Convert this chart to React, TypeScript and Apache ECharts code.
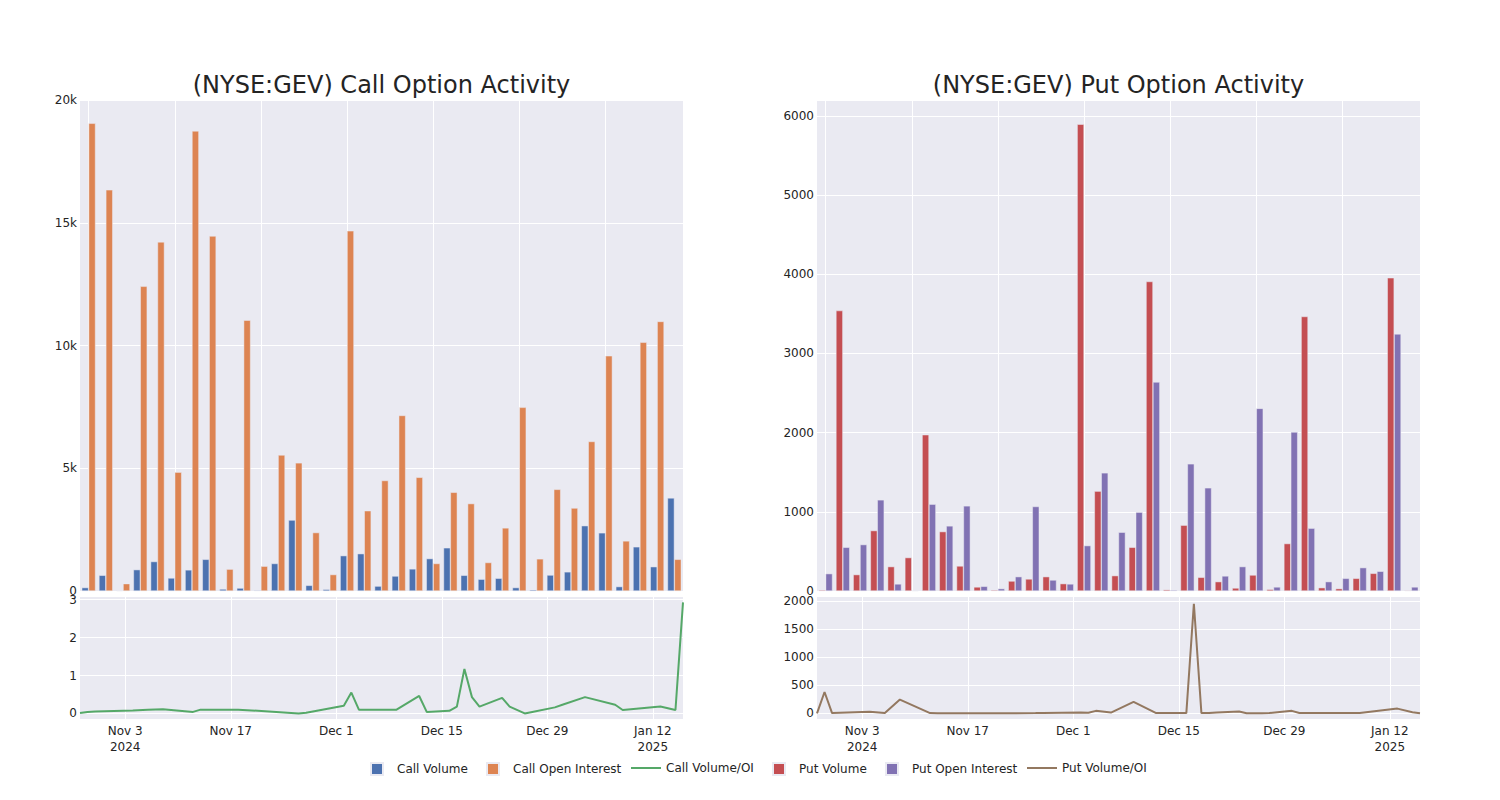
import React, { useEffect, useRef } from 'react';
import * as echarts from 'echarts';

// ---- data ----
const dates = [
  '2024-10-28', '2024-10-29', '2024-10-30', '2024-11-04', '2024-11-06', '2024-11-08', '2024-11-12',
  '2024-11-13', '2024-11-18', '2024-11-26', '2024-11-27', '2024-12-02', '2024-12-03', '2024-12-04',
  '2024-12-06', '2024-12-09', '2024-12-12', '2024-12-13', '2024-12-16', '2024-12-17', '2024-12-18',
  '2024-12-19', '2024-12-20', '2024-12-23', '2024-12-24', '2024-12-26', '2024-12-27', '2024-12-30',
  '2024-12-31', '2025-01-03', '2025-01-07', '2025-01-08', '2025-01-13', '2025-01-15', '2025-01-16',
];

const callVolume = [
  140, 640, 20, 870, 1200, 530, 860, 1290, 80, 120, 30, 1120, 2890, 230, 70, 1440, 1520, 200,
  610, 900, 1320, 1760, 640, 480, 520, 140, 50, 650, 780, 2660, 2370, 180, 1800, 990, 3790,
];
const callOpenInterest = [
  19050, 16340, 300, 12410, 14220, 4840, 18740, 14460, 890, 11030, 1010, 5540, 5220, 2380, 670,
  14670, 3270, 4500, 7150, 4630, 1120, 4020, 3560, 1160, 2570, 7480, 1310, 4140, 3380, 6090, 9580,
  2040, 10130, 10980, 1290,
];
const callVolOI = [
  0.01, 0.04, 0.05, 0.08, 0.095, 0.11, 0.04, 0.1, 0.1, 0.0, 0.02, 0.2, 0.55, 0.1, 0.1, 0.1, 0.46,
  0.04, 0.07, 0.18, 1.17, 0.43, 0.18, 0.41, 0.18, 0.0, 0.04, 0.16, 0.23, 0.43, 0.23, 0.09, 0.18,
  0.09, 2.93,
];
const putVolume = [
  13, 3541, 207, 763, 308, 422, 1973, 750, 316, 51, 13, 126, 152, 181, 93, 5894, 1261, 194, 552,
  3908, 17, 831, 173, 118, 38, 202, 21, 599, 3466, 42, 30, 160, 223, 3955, 8,
];
const putOpenInterest = [
  219, 552, 586, 1151, 89, 5, 1096, 822, 1075, 59, 30, 181, 1067, 139, 89, 573, 1492, 742, 995,
  2639, 13, 1606, 1303, 190, 308, 2306, 51, 2007, 793, 118, 160, 295, 249, 3246, 51,
];
const putVolOI = [
  0, 380, 5, 30, 5, 245, 5, 3, 3, 5, 8, 15, 10, 45, 15, 205, 5, 5, 5, 1950, 5, 8, 15, 35, 3, 3,
  5, 45, 8, 8, 8, 8, 85, 20, 3,
];

const axisStart = '2024-10-28';
const axisEnd = '2025-01-16';
const xTickDates = ['2024-11-03', '2024-11-17', '2024-12-01', '2024-12-15', '2024-12-29', '2025-01-12'];
const xTickLabels = ['Nov 3\n2024', 'Nov 17', 'Dec 1', 'Dec 15', 'Dec 29', 'Jan 12\n2025'];
const callRatioTicks = [0, 1, 2, 3];
const putRatioTicks = [0, 500, 1000, 1500, 2000];

const titles = ['(NYSE:GEV) Call Option Activity', '(NYSE:GEV) Put Option Activity'];

// ---- styles ----
const FONT = '"DejaVu Sans", Verdana, sans-serif';
const TEXT = '#242424';
const BG = '#EAEAF2';
const C_BLUE = '#4C72B0';
const C_ORANGE = '#DD8452';
const C_GREEN = '#55A868';
const C_RED = '#C44E52';
const C_PURPLE = '#8172B3';
const C_BROWN = '#937860';

function ts(s: string): number {
  const [y, m, d] = s.split('-').map(Number);
  return Date.UTC(y, m - 1, d);
}

export default function App() {
  const ref = useRef<HTMLDivElement>(null);

  useEffect(() => {
    if (!ref.current) return;
    const chart = echarts.init(ref.current, null, { renderer: 'svg' });
    const xMin = ts(axisStart);
    const xMax = ts(axisEnd);
    const tickTs = xTickDates.map(ts);

    const labelStyle = { color: TEXT, fontSize: 12, fontFamily: FONT };
    const white = { show: true, lineStyle: { color: '#ffffff', width: 1 } };

    const catAxis = (gridIndex: number) => ({
      type: 'category',
      gridIndex,
      data: dates,
      axisLine: { show: false },
      axisTick: { show: false },
      axisLabel: { show: false },
      splitLine: { show: true, interval: 4, alignWithLabel: true, lineStyle: { color: '#ffffff', width: 1 } },
    });

    const dateAxis = (gridIndex: number) => ({
      type: 'value',
      gridIndex,
      min: xMin,
      max: xMax,
      axisLine: { show: false },
      axisTick: { show: false, customValues: tickTs },
      axisLabel: {
        ...labelStyle,
        customValues: tickTs,
        margin: 4,
        lineHeight: 16,
        hideOverlap: false,
        formatter: (v: number) => {
          for (let i = 0; i < tickTs.length; i++) {
            if (Math.abs(tickTs[i] - v) < 3600000) return xTickLabels[i];
          }
          return '';
        },
      },
      splitLine: white,
    });

    const gridBase = { show: true, backgroundColor: BG, borderWidth: 0, containLabel: false };

    const squareLegend = (name: string, left: number) => ({
      data: [name],
      left,
      top: 762,
      padding: 0,
      itemWidth: 12,
      itemHeight: 12,
      icon: 'rect',
      selectedMode: false,
      textStyle: { ...labelStyle, padding: [0, 0, 0, 9] },
    });
    const lineLegend = (name: string, left: number) => ({
      data: [name],
      left,
      top: 762,
      padding: 0,
      itemWidth: 30,
      itemHeight: 12,
      icon: 'path://M0,5H30V7H0Z',
      selectedMode: false,
      textStyle: { ...labelStyle },
    });

    chart.setOption({
      animation: false,
      backgroundColor: '#ffffff',
      textStyle: { fontFamily: FONT },
      title: [
        {
          text: titles[0], left: 381.5, top: 73, textAlign: 'center', padding: 0,
          textStyle: { fontSize: 24, fontWeight: 'normal', color: TEXT, fontFamily: FONT },
        },
        {
          text: titles[1], left: 1118.5, top: 73, textAlign: 'center', padding: 0,
          textStyle: { fontSize: 24, fontWeight: 'normal', color: TEXT, fontFamily: FONT },
        },
      ],
      legend: [
        squareLegend('Call Volume', 370),
        squareLegend('Call Open Interest', 486),
        lineLegend('Call Volume/OI', 631),
        squareLegend('Put Volume', 772),
        squareLegend('Put Open Interest', 885),
        lineLegend('Put Volume/OI', 1027),
      ],
      grid: [
        { ...gridBase, left: 80, top: 100, width: 603, height: 491 },
        { ...gridBase, left: 80, top: 597, width: 603, height: 122 },
        { ...gridBase, left: 817, top: 100, width: 603, height: 491 },
        { ...gridBase, left: 817, top: 597, width: 603, height: 122 },
      ],
      xAxis: [catAxis(0), dateAxis(1), catAxis(2), dateAxis(3)],
      yAxis: [
        {
          type: 'value', gridIndex: 0, min: 0, max: 20000, interval: 5000,
          axisLine: { show: false }, axisTick: { show: false },
          axisLabel: { ...labelStyle, margin: 3, formatter: (v: number) => (v === 0 ? '0' : v / 1000 + 'k') },
          splitLine: white,
        },
        {
          type: 'value', gridIndex: 1, min: -0.147, max: 3.07,
          axisLine: { show: false },
          axisTick: { show: false, customValues: callRatioTicks },
          axisLabel: { ...labelStyle, margin: 3, customValues: callRatioTicks, formatter: (v: number) => String(v) },
          splitLine: white,
        },
        {
          type: 'value', gridIndex: 2, min: 0, max: 6200, interval: 1000,
          axisLine: { show: false }, axisTick: { show: false },
          axisLabel: { ...labelStyle, margin: 3, formatter: (v: number) => (v % 1000 === 0 ? String(v) : '') },
          splitLine: white,
        },
        {
          type: 'value', gridIndex: 3, min: -100, max: 2070,
          axisLine: { show: false },
          axisTick: { show: false, customValues: putRatioTicks },
          axisLabel: { ...labelStyle, margin: 3, customValues: putRatioTicks, formatter: (v: number) => String(v) },
          splitLine: white,
        },
      ],
      series: [
        {
          name: 'Call Volume', type: 'bar', xAxisIndex: 0, yAxisIndex: 0, data: callVolume,
          barWidth: '40%', barGap: '0%',
          itemStyle: { color: C_BLUE, borderColor: BG, borderWidth: 0.5 },
        },
        {
          name: 'Call Open Interest', type: 'bar', xAxisIndex: 0, yAxisIndex: 0, data: callOpenInterest,
          barWidth: '40%', barGap: '0%',
          itemStyle: { color: C_ORANGE, borderColor: BG, borderWidth: 0.5 },
        },
        {
          name: 'Call Volume/OI', type: 'line', xAxisIndex: 1, yAxisIndex: 1,
          data: dates.map((d, i) => [ts(d), callVolOI[i]]),
          showSymbol: false, symbol: 'none',
          lineStyle: { color: C_GREEN, width: 2 }, itemStyle: { color: C_GREEN },
        },
        {
          name: 'Put Volume', type: 'bar', xAxisIndex: 2, yAxisIndex: 2, data: putVolume,
          barWidth: '40%', barGap: '0%',
          itemStyle: { color: C_RED, borderColor: BG, borderWidth: 0.5 },
        },
        {
          name: 'Put Open Interest', type: 'bar', xAxisIndex: 2, yAxisIndex: 2, data: putOpenInterest,
          barWidth: '40%', barGap: '0%',
          itemStyle: { color: C_PURPLE, borderColor: BG, borderWidth: 0.5 },
        },
        {
          name: 'Put Volume/OI', type: 'line', xAxisIndex: 3, yAxisIndex: 3,
          data: dates.map((d, i) => [ts(d), putVolOI[i]]),
          showSymbol: false, symbol: 'none',
          lineStyle: { color: C_BROWN, width: 2 }, itemStyle: { color: C_BROWN },
        },
      ],
    });

    return () => {
      chart.dispose();
    };
  }, []);

  return (
    <div
      ref={ref}
      style={{ position: 'absolute', left: 0, top: 0, width: 1500, height: 800, background: '#ffffff' }}
    />
  );
}
